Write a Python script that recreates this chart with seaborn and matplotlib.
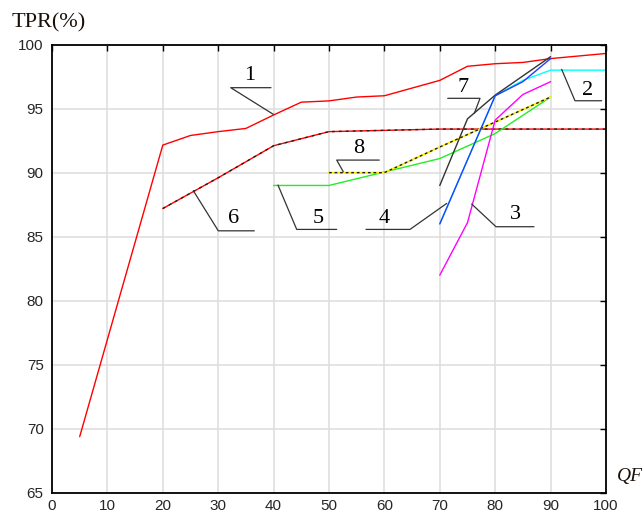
import numpy as np
import pandas as pd
import matplotlib
matplotlib.use("Agg")
import matplotlib.pyplot as plt
from matplotlib import font_manager
import seaborn as sns

# ---------------- data ----------------
qf1 = [5, 20, 25, 30, 35, 40, 45, 50, 55, 60, 65, 70, 75, 80, 85, 90, 95, 100]
tpr1 = [69.4, 92.15, 92.9, 93.2, 93.45, 94.5, 95.5, 95.6, 95.9, 96.0, 96.6, 97.2, 98.3, 98.5, 98.6, 98.9, 99.1, 99.3]

qf2 = [70, 75, 80, 85, 90, 95, 100]
tpr2 = [86.0, 91.0, 96.0, 97.2, 98.0, 98.0, 98.0]

qf3 = [70, 75, 80, 85, 90]
tpr3 = [82.0, 86.1, 94.1, 96.1, 97.1]

qf4 = [70, 75, 80, 85, 90]
tpr4 = [86.0, 91.0, 96.0, 97.1, 98.9]

qf5 = [40, 50, 60, 70, 80, 90]
tpr5 = [89.0, 89.0, 90.05, 91.1, 93.05, 95.9]

qf6 = [20, 30, 40, 50, 60, 70, 80, 90, 100]
tpr6 = [87.2, 89.6, 92.1, 93.2, 93.3, 93.4, 93.4, 93.4, 93.4]

qf7 = [70, 75, 80, 85, 90]
tpr7 = [89.0, 94.2, 96.05, 97.55, 99.05]

qf8 = [50, 60, 70, 80, 90]
tpr8 = [90.0, 90.0, 92.0, 93.95, 95.9]

curve_labels = ["1", "2", "3", "4", "5", "6", "7", "8"]
x_ticks = [0, 10, 20, 30, 40, 50, 60, 70, 80, 90, 100]
y_ticks = [65, 70, 75, 80, 85, 90, 95, 100]

# ---------------- fonts ----------------
names = {f.name for f in font_manager.fontManager.ttflist}
serif = "Liberation Serif" if "Liberation Serif" in names else "DejaVu Serif"
if "Liberation Sans Narrow" in names:
    tick_font = dict(family="Liberation Sans Narrow")
elif "Liberation Sans" in names:
    tick_font = dict(family="Liberation Sans")
else:
    tick_font = dict(family="DejaVu Sans")

sns.set_style("white")

fig = plt.figure(figsize=(6.42, 5.16), dpi=100)
ax = fig.add_axes([52 / 642, 1 - 493 / 516, (606 - 52) / 642, (493 - 44.5) / 516])

def frame(q, t):
    return pd.DataFrame({"QF": q, "TPR": t})

lw = 1.0
# curve 2 (cyan) below blue
sns.lineplot(data=frame(qf2, tpr2), x="QF", y="TPR", ax=ax, color="#00ffff", lw=lw, sort=False)
sns.lineplot(data=frame(qf1, tpr1), x="QF", y="TPR", ax=ax, color="#ff0000", lw=lw, sort=False)
# curve 6: red with black dashes
sns.lineplot(data=frame(qf6, tpr6), x="QF", y="TPR", ax=ax, color="#ff0000", lw=lw, sort=False)
sns.lineplot(data=frame(qf6, tpr6), x="QF", y="TPR", ax=ax, color="#202020", lw=lw, sort=False,
             linestyle=(0, (2, 3)))
sns.lineplot(data=frame(qf5, tpr5), x="QF", y="TPR", ax=ax, color="#22ee22", lw=lw, sort=False)
# curve 8: yellow with black dashes
sns.lineplot(data=frame(qf8, tpr8), x="QF", y="TPR", ax=ax, color="#ffee00", lw=1.3, sort=False)
sns.lineplot(data=frame(qf8, tpr8), x="QF", y="TPR", ax=ax, color="#202020", lw=1.0, sort=False,
             linestyle=(0, (2, 2)))
sns.lineplot(data=frame(qf3, tpr3), x="QF", y="TPR", ax=ax, color="#ff00ff", lw=lw, sort=False)
sns.lineplot(data=frame(qf7, tpr7), x="QF", y="TPR", ax=ax, color="#333333", lw=lw, sort=False)
sns.lineplot(data=frame(qf4, tpr4), x="QF", y="TPR", ax=ax, color="#1f3fff", lw=lw, sort=False)

# ---------------- annotations (leader, corner, end, text) ----------------
ann = [
    ((39.95, 94.55), (32.26, 96.63), (39.53, 96.63), (35.74, 97.58)),
    ((92.0, 98.06), (94.40, 95.61), (99.22, 95.61), (96.66, 96.41)),
    ((75.76, 87.55), (80.14, 85.78), (87.0, 85.78), (83.57, 86.73)),
    ((71.25, 87.60), (64.62, 85.57), (56.68, 85.57), (60.05, 86.46)),
    ((40.79, 89.03), (44.17, 85.57), (51.39, 85.57), (48.01, 86.46)),
    ((25.51, 88.59), (30.02, 85.46), (36.52, 85.46), (32.85, 86.46)),
    ((76.23, 94.63), (77.26, 95.80), (71.43, 95.80), (74.19, 96.64)),
    ((52.58, 90.07), (51.39, 90.98), (59.08, 90.98), (55.32, 91.90)),
]
for lab, (p, c, e, t) in zip(curve_labels, ann):
    ax.plot([p[0], c[0], e[0]], [p[1], c[1], e[1]], color="#333333", lw=0.9, zorder=5)
    ax.text(t[0], t[1], lab, ha="center", va="center", fontsize=16,
            family=serif, color="black", zorder=6)

# ---------------- axes styling ----------------
ax.set_xlim(0, 100)
ax.set_ylim(65, 100)
ax.set_xticks(x_ticks)
ax.set_yticks(y_ticks)
ax.set_xticklabels([str(v) for v in x_ticks], **tick_font, fontsize=11)
ax.set_yticklabels([str(v) for v in y_ticks], **tick_font, fontsize=11)
ax.set_xlabel("")
ax.set_ylabel("")
ax.grid(True, color="#dddddd", lw=1.1, zorder=0)
ax.set_axisbelow(True)
for s in ax.spines.values():
    s.set_visible(True)
    s.set_color("black")
    s.set_linewidth(1.3)
ax.tick_params(direction="in", length=4, width=1.0, color="black",
               top=True, right=True, labeltop=False, labelright=False)
ax.tick_params(axis="y", pad=6)
ax.tick_params(axis="x", pad=4)

fig.text(12 / 642, 1 - 23 / 516, "TPR(%)", ha="left", va="center",
         fontsize=16, family=serif, color="#1a1008")
fig.text(617 / 642, 1 - 476 / 516, "QF", ha="left", va="center",
         fontsize=14, family=serif, style="italic", color="#1a1008")

fig.savefig("out.png", dpi=100)
